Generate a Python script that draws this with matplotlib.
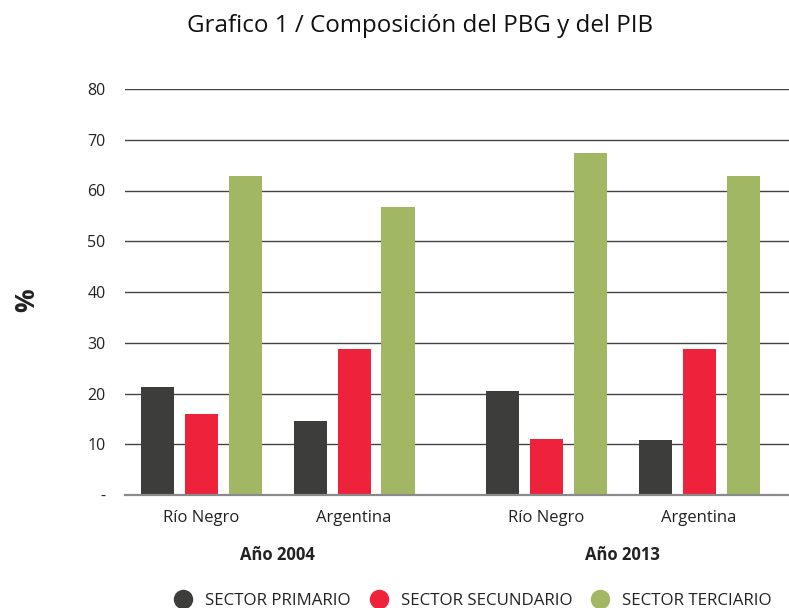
import matplotlib
matplotlib.use("Agg")
import matplotlib.pyplot as plt
from matplotlib.lines import Line2D
from matplotlib.transforms import blended_transform_factory
import numpy as np

plt.rcParams['font.family'] = ['Open Sans', 'DejaVu Sans']

categories = ["Río Negro", "Argentina", "Río Negro", "Argentina"]
years = ["Año 2004", "Año 2013"]
series_names = ["SECTOR PRIMARIO", "SECTOR SECUNDARIO", "SECTOR TERCIARIO"]
primario = [21.3, 14.5, 20.5, 10.8]
secundario = [16.0, 28.8, 11.0, 28.8]
terciario = [62.9, 56.8, 67.3, 62.9]
ytick_values = [0, 10, 20, 30, 40, 50, 60, 70, 80]
ytick_labels = ["-", "10", "20", "30", "40", "50", "60", "70", "80"]
colors = ["#3d3d3b", "#ee223b", "#a2b764"]

positions = np.array([0, 1, 2.255, 3.255])
width = 0.216
offset = 0.2875

fig = plt.figure(figsize=(7.89, 6.08), dpi=100)
ax = fig.add_axes([125/789, 1 - 495/608, 1 - 125/789, (495 - 89)/608])

for i, (vals, c) in enumerate(zip([primario, secundario, terciario], colors)):
    ax.bar(positions + (i - 1) * offset, vals, width=width, color=c, zorder=3)

ax.set_ylim(0, 80)
ax.set_xlim(-0.497, 3.843)
ax.set_yticks(ytick_values)
ax.set_yticklabels(ytick_labels)
ax.yaxis.grid(True, color="#444444", linewidth=1)
ax.set_axisbelow(True)
for s in ["top", "right", "left"]:
    ax.spines[s].set_visible(False)
ax.spines["bottom"].set_color("#8a8a8a")
ax.spines["bottom"].set_linewidth(1.6)
ax.spines["bottom"].set_zorder(4)
ax.tick_params(axis="y", length=0, pad=14, labelsize=11.5, labelcolor="#222222")
ax.tick_params(axis="x", length=0, pad=11, labelsize=12, labelcolor="#222222")
ax.set_xticks(positions)
ax.set_xticklabels(categories)

trans = blended_transform_factory(ax.transData, ax.transAxes)
ax.text(positions[:2].mean(), -0.148, years[0], transform=trans, ha="center",
        va="center", fontsize=12, fontweight="bold", color="#222222")
ax.text(positions[2:].mean(), -0.148, years[1], transform=trans, ha="center",
        va="center", fontsize=12, fontweight="bold", color="#222222")

fig.text(27/789, 1 - 300/608, "%", rotation=90, ha="center", va="center",
         fontsize=19, fontweight="bold", color="#222222")

fig.text(420/789, 1 - 26/608, "Grafico 1 / Composición del PBG y del PIB",
         ha="center", va="center", fontsize=17.4, color="#111111")

handles = [Line2D([0], [0], marker="o", linestyle="none", markersize=13,
                  markerfacecolor=c, markeredgecolor=c) for c in colors]
fig.legend(handles, series_names, loc="center", bbox_to_anchor=(469/789, 1 - 601/608),
           ncol=3, frameon=False, fontsize=12.2, handletextpad=0.3,
           columnspacing=0.65, labelcolor="#222222")

fig.savefig("out.png", dpi=100)
